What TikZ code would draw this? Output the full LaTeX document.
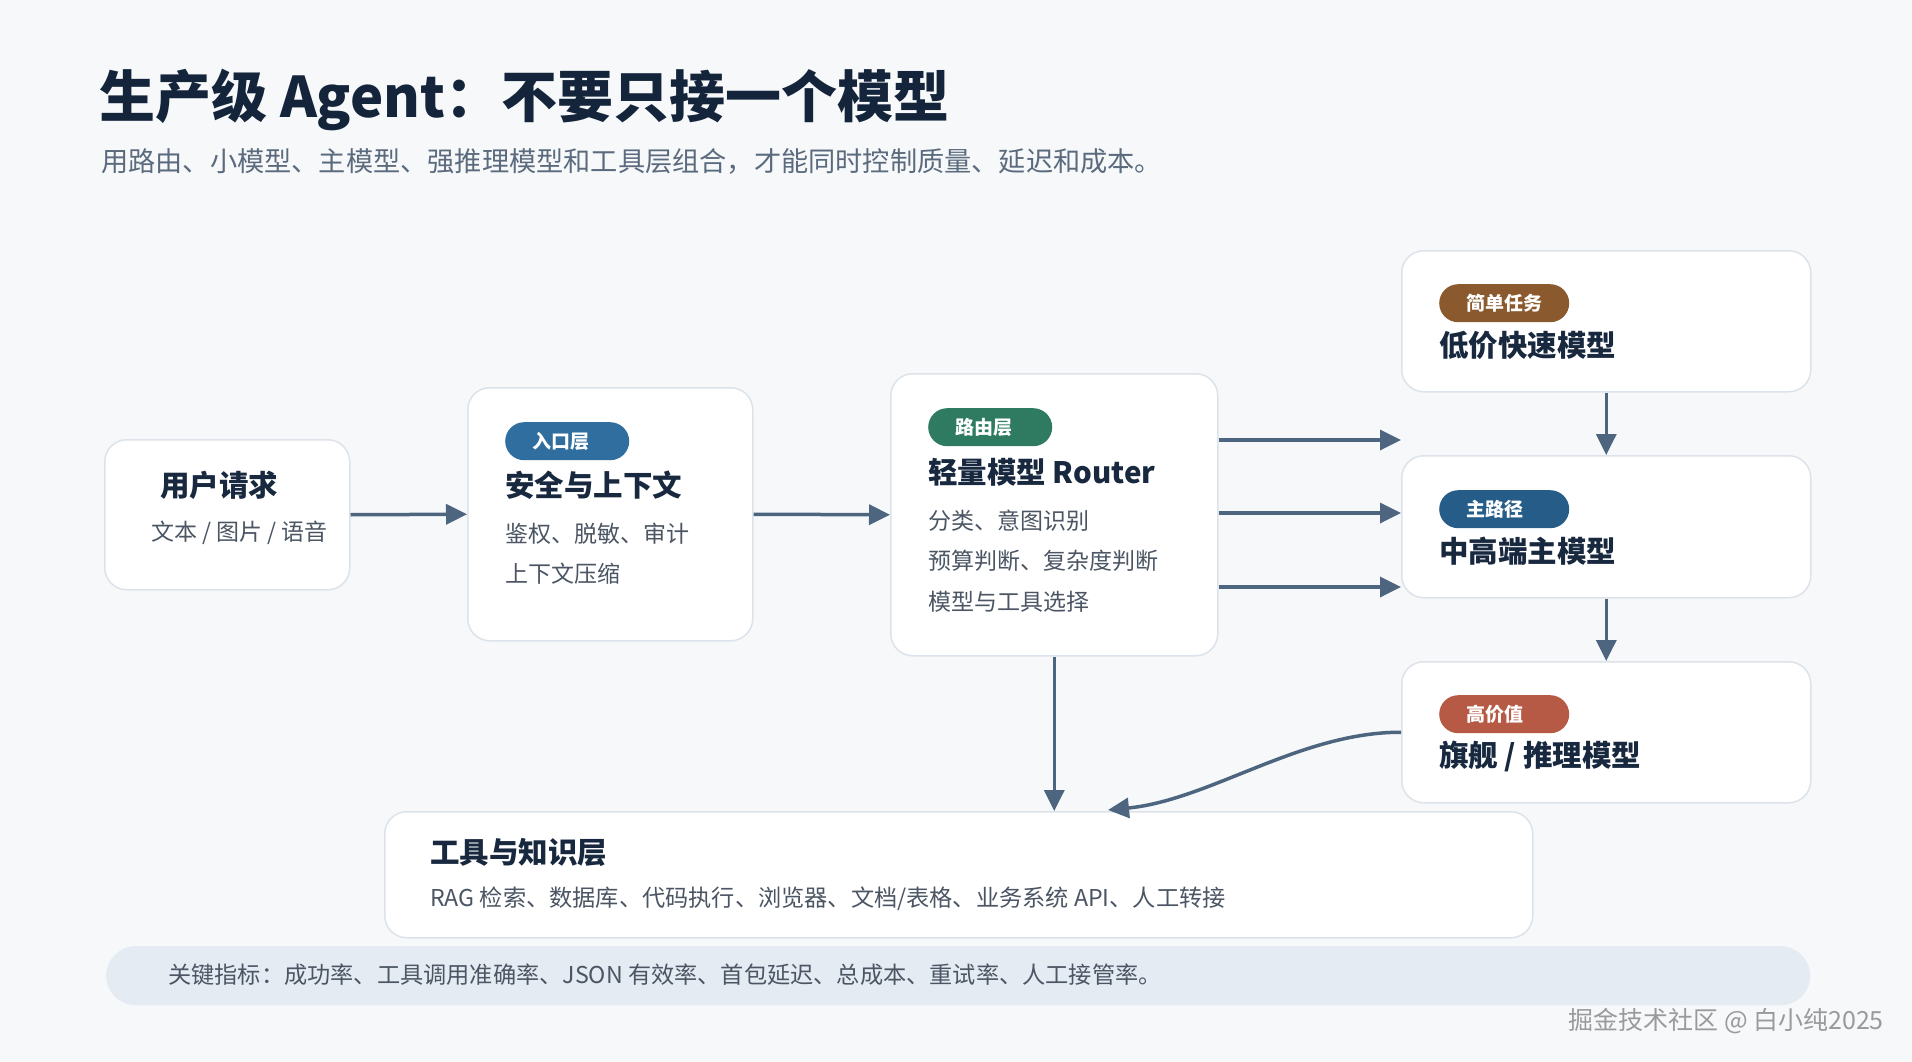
\documentclass[tikz,border=0pt]{standalone}
\usepackage{fontspec}
\setmainfont{Noto Sans CJK SC}
\usetikzlibrary{arrows.meta}
\definecolor{bgc}{HTML}{F6F8FA}
\definecolor{titlec}{HTML}{14243A}
\definecolor{subc}{HTML}{5B6B7D}
\definecolor{boxline}{HTML}{DCE3EA}
\definecolor{arrowc}{HTML}{4E6580}
\definecolor{barc}{HTML}{E5EBF2}
\definecolor{bodyc}{HTML}{4B5563}
\definecolor{headc}{HTML}{17283F}
\definecolor{bEntry}{HTML}{2F6E9E}
\definecolor{bRouter}{HTML}{2E7B62}
\definecolor{bSimple}{HTML}{8A5A2E}
\definecolor{bMain}{HTML}{255D88}
\definecolor{bHigh}{HTML}{B65A45}
\definecolor{wmc}{HTML}{9A9A9A}
\begin{document}
\begin{tikzpicture}[x=1pt,y=-1pt,
  card/.style={draw=boxline, line width=1.5pt, fill=white, rounded corners=22pt, inner sep=0pt, anchor=north west},
  badge/.style={fill=#1, text=white, rounded corners=19pt, anchor=north west, inner xsep=27pt, inner ysep=0pt, minimum height=38pt, align=left, font=\fontsize{19}{19}\selectfont\bfseries},
  head/.style={anchor=west, inner sep=0pt, text=headc, font=\fontsize{29.5}{30}\selectfont\bfseries},
  body/.style={anchor=west, inner sep=0pt, text=bodyc, font=\fontsize{23}{24}\selectfont},
  conn/.style={draw=arrowc, line width=3.5pt, -{Triangle[length=21pt,width=20pt]}}
]
\fill[bgc] (0,0) rectangle (1912,1062);
\useasboundingbox (0,0) rectangle (1912,1062);

% title
\node[anchor=west, inner sep=0pt, text=titlec, font=\fontsize{56}{58}\selectfont\bfseries] (title) at (99,100) {生产级 Agent：不要只接一个模型};
\node[anchor=west, inner sep=0pt, text=subc, font=\fontsize{27.2}{28}\selectfont] (subtitle) at (101,161) {用路由、小模型、主模型、强推理模型和工具层组合，才能同时控制质量、延迟和成本。};

% cards
\node[card, minimum width=245pt, minimum height=150pt] (user) at (104,439) {};
\node[card, minimum width=285pt, minimum height=253pt] (entry) at (467,387) {};
\node[card, minimum width=327pt, minimum height=282pt] (router) at (890,373) {};
\node[card, minimum width=409pt, minimum height=141pt] (low) at (1401,250) {};
\node[card, minimum width=409pt, minimum height=142pt] (main) at (1401,455) {};
\node[card, minimum width=409pt, minimum height=141pt] (high) at (1401,661) {};
\node[card, minimum width=1148pt, minimum height=126pt] (tools) at (384,811) {};
\node[fill=barc, rounded corners=29.5pt, minimum width=1704pt, minimum height=59pt, inner sep=0pt, anchor=north west] (bar) at (106,946) {};

% user
\node[head] (userT) at (160,485) {用户请求};
\node[body] (userS) at (151,533) {文本 / 图片 / 语音};

% entry
\node[badge=bEntry, text width=70pt] (entryB) at (505,422) {入口层};
\node[head] (entryT) at (505,485) {安全与上下文};
\node[body] (entryL1) at (505,534) {鉴权、脱敏、审计};
\node[body] (entryL2) at (505,574) {上下文压缩};

% router
\node[badge=bRouter, text width=70pt] (routerB) at (928,408) {路由层};
\node[head] (routerT) at (928,472) {轻量模型 Router};
\node[body] (routerL1) at (928,521) {分类、意图识别};
\node[body] (routerL2) at (928,561) {预算判断、复杂度判断};
\node[body] (routerL3) at (928,602) {模型与工具选择};

% model column
\node[badge=bSimple, text width=76pt] (lowB) at (1439,284) {简单任务};
\node[head] (lowT) at (1439,345) {低价快速模型};
\node[badge=bMain, text width=76pt] (mainB) at (1439,490) {主路径};
\node[head] (mainT) at (1439,551) {中高端主模型};
\node[badge=bHigh, text width=76pt] (highB) at (1439,695) {高价值};
\node[head] (highT) at (1439,756) {旗舰 / 推理模型};

% tools
\node[head] (toolsT) at (430,852) {工具与知识层};
\node[anchor=west, inner sep=0pt, text=bodyc, font=\fontsize{23.2}{24}\selectfont] (toolsL) at (430,899) {RAG 检索、数据库、代码执行、浏览器、文档/表格、业务系统 API、人工转接};

% bar text
\node[anchor=west, inner sep=0pt, text=bodyc, font=\fontsize{23.2}{24}\selectfont] (barT) at (168,975) {关键指标：成功率、工具调用准确率、JSON 有效率、首包延迟、总成本、重试率、人工接管率。};

% watermark
\node[anchor=east, inner sep=0pt, text=wmc, font=\fontsize{25}{26}\selectfont] (wm) at (1884,1021) {掘金技术社区 @ 白小纯2025};

% connectors
\coordinate (r1) at (1401,440);
\coordinate (r2) at (1401,513);
\coordinate (r3) at (1401,587);
\coordinate (toolsIn) at (1108,810);
\draw[conn] (user.east) -- (entry.west);
\draw[conn] (entry.east) -- (router.west);
\draw[conn] (router.east |- r1) -- (r1);
\draw[conn] (router.east |- r2) -- (r2);
\draw[conn] (router.east |- r3) -- (r3);
\draw[conn] (low.south) -- (main.north);
\draw[conn] (main.south) -- (high.north);
\draw[conn] (router.south) -- (router.south |- tools.north);
\draw[conn] (high.west) .. controls (1300,732) and (1210,800) .. (toolsIn);
\end{tikzpicture}
\end{document}
